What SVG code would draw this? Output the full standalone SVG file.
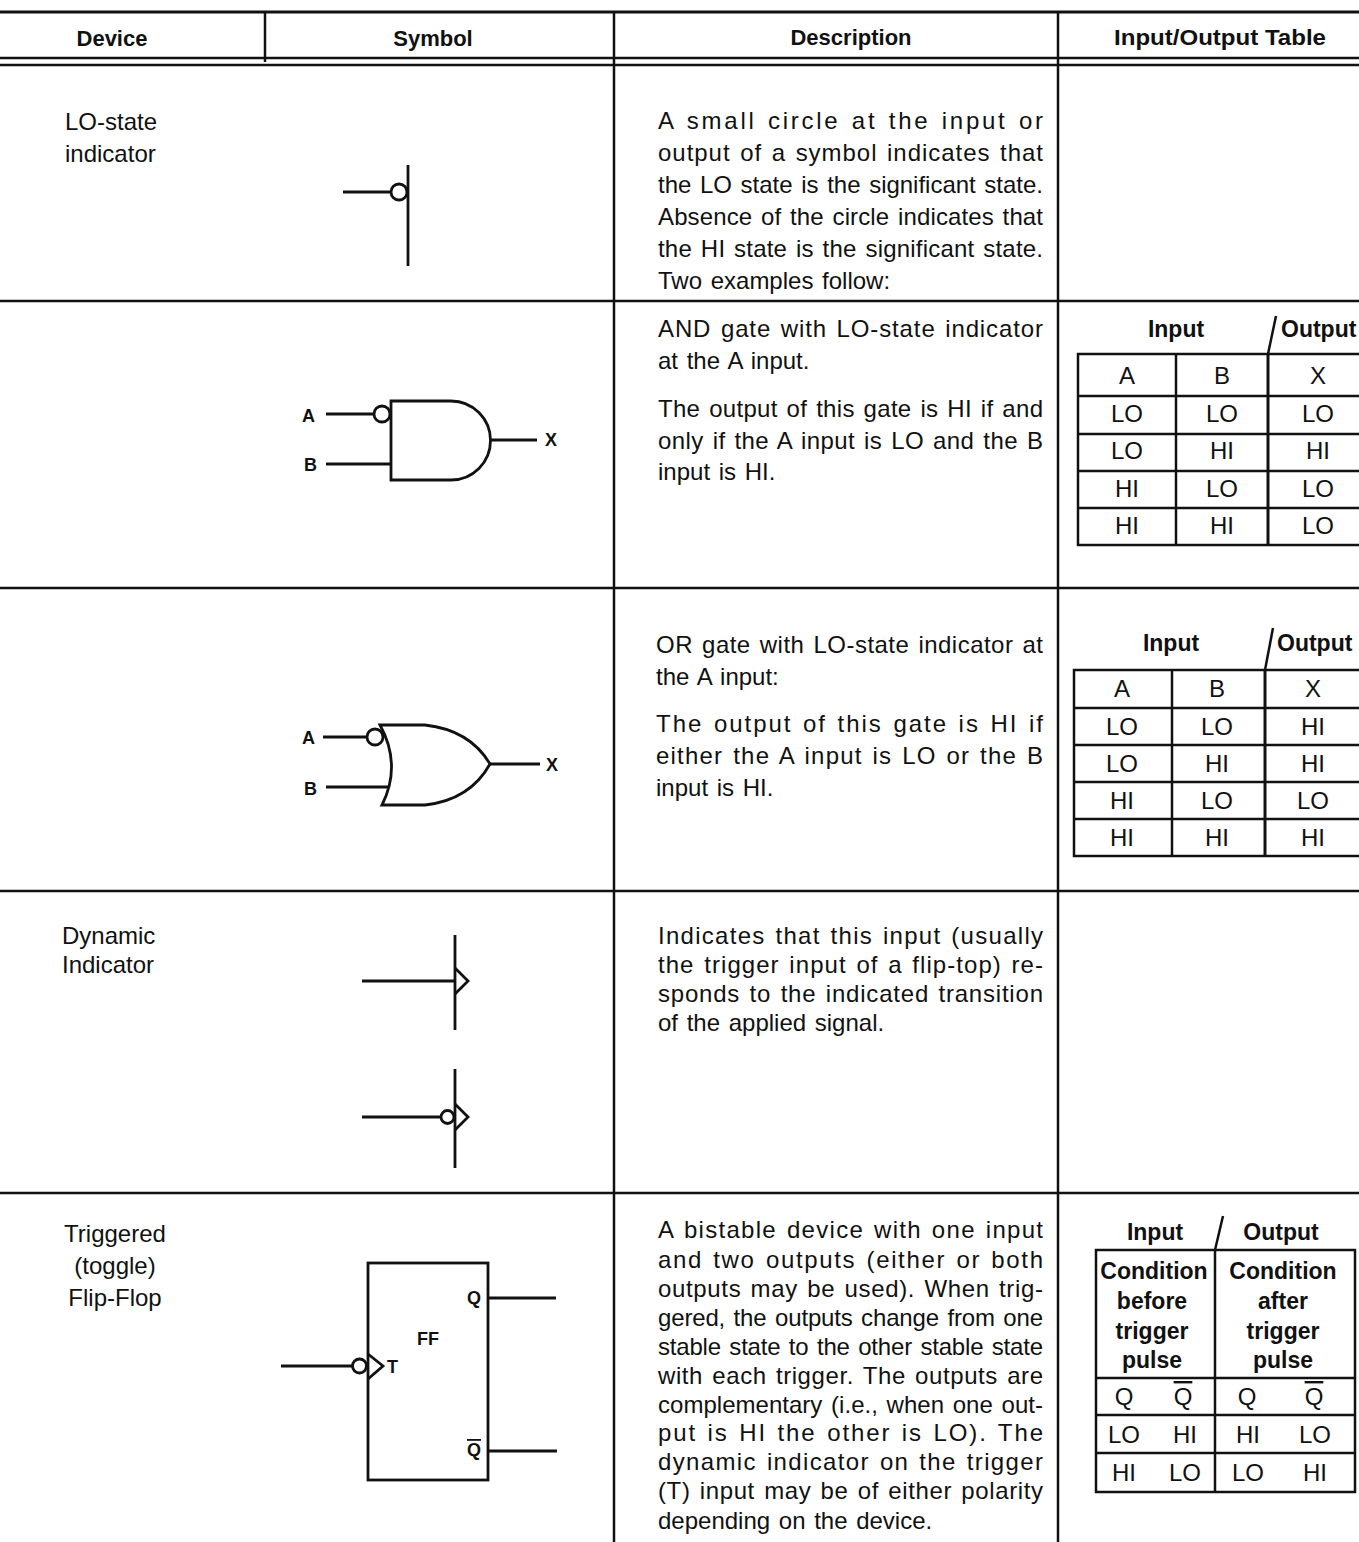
<svg xmlns="http://www.w3.org/2000/svg" width="1359" height="1542" viewBox="0 0 1359 1542">
<style>
.t{font-family:"Liberation Sans",Arial,sans-serif;font-size:24px;word-spacing:2px;fill:#111}
.h{font-family:"Liberation Sans",Arial,sans-serif;font-size:22px;font-weight:bold;fill:#111}
.hb{font-family:"Liberation Sans",Arial,sans-serif;font-size:23px;font-weight:bold;fill:#111}
.c{text-anchor:middle}
.tb{font-family:"Liberation Sans",Arial,sans-serif;font-size:24px;fill:#111;text-anchor:middle}
.ln{stroke:#111;stroke-width:2.5;fill:none}
.sym{stroke:#111;stroke-width:2.8;fill:none}
.lbl{font-family:"Liberation Sans",Arial,sans-serif;font-size:18px;font-weight:bold;fill:#111}
.ov{text-decoration:overline}
</style>
<rect width="1359" height="1542" fill="#fff"/>
<g id="grid" class="ln">
<line x1="0" y1="12" x2="1359" y2="12" stroke-width="3"/>
<line x1="0" y1="58" x2="1359" y2="58"/>
<line x1="0" y1="65" x2="1359" y2="65"/>
<line x1="265" y1="12" x2="265" y2="62"/>
<line x1="614" y1="12" x2="614" y2="1542"/>
<line x1="1058" y1="12" x2="1058" y2="1542"/>
<line x1="0" y1="301" x2="1359" y2="301"/>
<line x1="0" y1="588" x2="1359" y2="588"/>
<line x1="0" y1="891" x2="1359" y2="891"/>
<line x1="0" y1="1193" x2="1359" y2="1193"/>
</g>
<g id="header">
<text class="h c" x="112" y="46">Device</text>
<text class="h c" x="433" y="46">Symbol</text>
<text class="h c" x="851" y="45">Description</text>
<text class="h" x="1114" y="45" textLength="212" lengthAdjust="spacingAndGlyphs">Input/Output Table</text>
</g>
<g id="row-lo-state">
<text class="t" x="65" y="130">LO-state</text>
<text class="t" x="65" y="162">indicator</text>
<g id="sym-lo" class="sym">
<line x1="343" y1="192" x2="391" y2="192"/>
<circle cx="399" cy="192" r="8"/>
<line x1="408" y1="165" x2="408" y2="266"/>
</g>
<g id="desc-lo">
<text class="t" x="658" y="129" textLength="385" lengthAdjust="spacing">A small circle at the input or</text>
<text class="t" x="658" y="161" textLength="385" lengthAdjust="spacing">output of a symbol indicates that</text>
<text class="t" x="658" y="193" textLength="385" lengthAdjust="spacing">the LO state is the significant state.</text>
<text class="t" x="658" y="225" textLength="385" lengthAdjust="spacing">Absence of the circle indicates that</text>
<text class="t" x="658" y="257" textLength="385" lengthAdjust="spacing">the HI state is the significant state.</text>
<text class="t" x="658" y="289">Two examples follow:</text>
</g>
</g>
<g id="row-and">
<g id="sym-and">
<text class="lbl" x="302" y="422">A</text>
<text class="lbl" x="304" y="471">B</text>
<text class="lbl" x="545" y="446">X</text>
<g class="sym">
<line x1="326" y1="414" x2="374" y2="414"/>
<circle cx="382" cy="414" r="8"/>
<line x1="326" y1="464" x2="391" y2="464"/>
<path d="M391,401 H451 A39.5,39.5 0 0 1 451,480 H391 Z"/>
<line x1="490" y1="440" x2="537" y2="440"/>
</g>
</g>
<g id="desc-and">
<text class="t" x="658" y="337" textLength="385" lengthAdjust="spacing">AND gate with LO-state indicator</text>
<text class="t" x="658" y="369">at the A input.</text>
<text class="t" x="658" y="417" textLength="385" lengthAdjust="spacing">The output of this gate is HI if and</text>
<text class="t" x="658" y="449" textLength="385" lengthAdjust="spacing">only if the A input is LO and the B</text>
<text class="t" x="658" y="480">input is HI.</text>
</g>
<g id="table-and">
<text class="hb c" x="1176" y="337">Input</text>
<text class="hb" x="1281" y="337">Output</text>
<g class="ln">
<line x1="1268" y1="354" x2="1276" y2="316"/>
<rect x="1078" y="354" width="290" height="191"/>
<line x1="1078" y1="396" x2="1359" y2="396"/>
<line x1="1078" y1="434" x2="1359" y2="434"/>
<line x1="1078" y1="471" x2="1359" y2="471"/>
<line x1="1078" y1="508" x2="1359" y2="508"/>
<line x1="1176" y1="354" x2="1176" y2="545"/>
<line x1="1268" y1="354" x2="1268" y2="545" stroke-width="3"/>
</g>
<text class="tb" x="1127" y="384">A</text><text class="tb" x="1222" y="384">B</text><text class="tb" x="1318" y="384">X</text>
<text class="tb" x="1127" y="422">LO</text><text class="tb" x="1222" y="422">LO</text><text class="tb" x="1318" y="422">LO</text>
<text class="tb" x="1127" y="459">LO</text><text class="tb" x="1222" y="459">HI</text><text class="tb" x="1318" y="459">HI</text>
<text class="tb" x="1127" y="497">HI</text><text class="tb" x="1222" y="497">LO</text><text class="tb" x="1318" y="497">LO</text>
<text class="tb" x="1127" y="534">HI</text><text class="tb" x="1222" y="534">HI</text><text class="tb" x="1318" y="534">LO</text>
</g>
</g>
<g id="row-or">
<g id="sym-or">
<text class="lbl" x="302" y="744">A</text>
<text class="lbl" x="304" y="795">B</text>
<text class="lbl" x="546" y="771">X</text>
<g class="sym">
<line x1="323" y1="737" x2="367" y2="737"/>
<circle cx="375" cy="737" r="8"/>
<line x1="326" y1="787" x2="388" y2="787"/>
<path d="M380,725 L425,725 Q470,730 490,764 Q470,800 425,805 L382,805 Q402,765 380,725 Z"/>
<line x1="490" y1="764" x2="540" y2="764"/>
</g>
</g>
<g id="desc-or">
<text class="t" x="656" y="653" textLength="387" lengthAdjust="spacing">OR gate with LO-state indicator at</text>
<text class="t" x="656" y="685">the A input:</text>
<text class="t" x="656" y="732" textLength="387" lengthAdjust="spacing">The output of this gate is HI if</text>
<text class="t" x="656" y="764" textLength="387" lengthAdjust="spacing">either the A input is LO or the B</text>
<text class="t" x="656" y="796">input is HI.</text>
</g>
<g id="table-or">
<text class="hb c" x="1171" y="651">Input</text>
<text class="hb" x="1277" y="651">Output</text>
<g class="ln">
<line x1="1265" y1="670" x2="1273" y2="628"/>
<rect x="1074" y="670" width="300" height="186"/>
<line x1="1074" y1="708" x2="1359" y2="708"/>
<line x1="1074" y1="745" x2="1359" y2="745"/>
<line x1="1074" y1="782" x2="1359" y2="782"/>
<line x1="1074" y1="819" x2="1359" y2="819"/>
<line x1="1172" y1="670" x2="1172" y2="856"/>
<line x1="1265" y1="670" x2="1265" y2="856" stroke-width="3"/>
</g>
<text class="tb" x="1122" y="697">A</text><text class="tb" x="1217" y="697">B</text><text class="tb" x="1313" y="697">X</text>
<text class="tb" x="1122" y="735">LO</text><text class="tb" x="1217" y="735">LO</text><text class="tb" x="1313" y="735">HI</text>
<text class="tb" x="1122" y="772">LO</text><text class="tb" x="1217" y="772">HI</text><text class="tb" x="1313" y="772">HI</text>
<text class="tb" x="1122" y="809">HI</text><text class="tb" x="1217" y="809">LO</text><text class="tb" x="1313" y="809">LO</text>
<text class="tb" x="1122" y="846">HI</text><text class="tb" x="1217" y="846">HI</text><text class="tb" x="1313" y="846">HI</text>
</g>
</g>
<g id="row-dynamic">
<text class="t" x="62" y="944">Dynamic</text>
<text class="t" x="62" y="973">Indicator</text>
<g id="sym-dyn" class="sym">
<line x1="455" y1="935" x2="455" y2="1030"/>
<line x1="362" y1="981" x2="455" y2="981"/>
<path d="M455,968 L468,981 L455,994"/>
<line x1="455" y1="1069" x2="455" y2="1168"/>
<line x1="362" y1="1117" x2="441" y2="1117"/>
<circle cx="447.5" cy="1117" r="6.5"/>
<path d="M455,1104 L468,1117 L455,1130"/>
</g>
<g id="desc-dyn">
<text class="t" x="658" y="944" textLength="385" lengthAdjust="spacing">Indicates that this input (usually</text>
<text class="t" x="658" y="973" textLength="385" lengthAdjust="spacing">the trigger input of a flip-top) re-</text>
<text class="t" x="658" y="1002" textLength="385" lengthAdjust="spacing">sponds to the indicated transition</text>
<text class="t" x="658" y="1031">of the applied signal.</text>
</g>
</g>
<g id="row-ff">
<text class="t c" x="115" y="1242">Triggered</text>
<text class="t c" x="115" y="1274">(toggle)</text>
<text class="t c" x="115" y="1306">Flip-Flop</text>
<g id="sym-ff">
<g class="sym">
<rect x="368" y="1263" width="120" height="217"/>
<line x1="488" y1="1298" x2="556" y2="1298"/>
<line x1="488" y1="1451" x2="557" y2="1451"/>
<line x1="281" y1="1366" x2="352" y2="1366"/>
<circle cx="359.5" cy="1366" r="7"/>
<path d="M368,1354 L383,1366 L368,1379"/>
</g>
<text class="lbl" x="467" y="1304">Q</text>
<text class="lbl" x="417" y="1345">FF</text>
<text class="lbl" x="387" y="1373">T</text>
<text class="lbl ov" x="467" y="1456">Q</text>
</g>
<g id="desc-ff">
<text class="t" x="658" y="1238" textLength="385" lengthAdjust="spacing">A bistable device with one input</text>
<text class="t" x="658" y="1268" textLength="385" lengthAdjust="spacing">and two outputs (either or both</text>
<text class="t" x="658" y="1297" textLength="385" lengthAdjust="spacing">outputs may be used). When trig-</text>
<text class="t" x="658" y="1326" textLength="385" lengthAdjust="spacing">gered, the outputs change from one</text>
<text class="t" x="658" y="1355" textLength="385" lengthAdjust="spacing">stable state to the other stable state</text>
<text class="t" x="658" y="1384" textLength="385" lengthAdjust="spacing">with each trigger. The outputs are</text>
<text class="t" x="658" y="1413" textLength="385" lengthAdjust="spacing">complementary (i.e., when one out-</text>
<text class="t" x="658" y="1441" textLength="385" lengthAdjust="spacing">put is HI the other is LO). The</text>
<text class="t" x="658" y="1470" textLength="385" lengthAdjust="spacing">dynamic indicator on the trigger</text>
<text class="t" x="658" y="1499" textLength="385" lengthAdjust="spacing">(T) input may be of either polarity</text>
<text class="t" x="658" y="1529">depending on the device.</text>
</g>
<g id="table-ff">
<text class="hb c" x="1155" y="1240">Input</text>
<text class="hb c" x="1281" y="1240">Output</text>
<g class="ln">
<line x1="1215" y1="1250" x2="1223" y2="1216"/>
<rect x="1096" y="1250" width="259" height="242"/>
<line x1="1096" y1="1378" x2="1355" y2="1378"/>
<line x1="1096" y1="1415" x2="1355" y2="1415"/>
<line x1="1096" y1="1453" x2="1355" y2="1453"/>
<line x1="1215" y1="1250" x2="1215" y2="1492"/>
</g>
<text class="hb c" x="1154" y="1279">Condition</text>
<text class="hb c" x="1152" y="1309">before</text>
<text class="hb c" x="1152" y="1339">trigger</text>
<text class="hb c" x="1152" y="1368">pulse</text>
<text class="hb c" x="1283" y="1279">Condition</text>
<text class="hb c" x="1283" y="1309">after</text>
<text class="hb c" x="1283" y="1339">trigger</text>
<text class="hb c" x="1283" y="1368">pulse</text>
<text class="tb" x="1124" y="1405">Q</text><text class="tb ov" x="1183" y="1405">Q</text>
<text class="tb" x="1247" y="1405">Q</text><text class="tb ov" x="1314" y="1405">Q</text>
<text class="tb" x="1124" y="1443">LO</text><text class="tb" x="1185" y="1443">HI</text>
<text class="tb" x="1248" y="1443">HI</text><text class="tb" x="1315" y="1443">LO</text>
<text class="tb" x="1124" y="1481">HI</text><text class="tb" x="1185" y="1481">LO</text>
<text class="tb" x="1248" y="1481">LO</text><text class="tb" x="1315" y="1481">HI</text>
</g>
</g>
</svg>
